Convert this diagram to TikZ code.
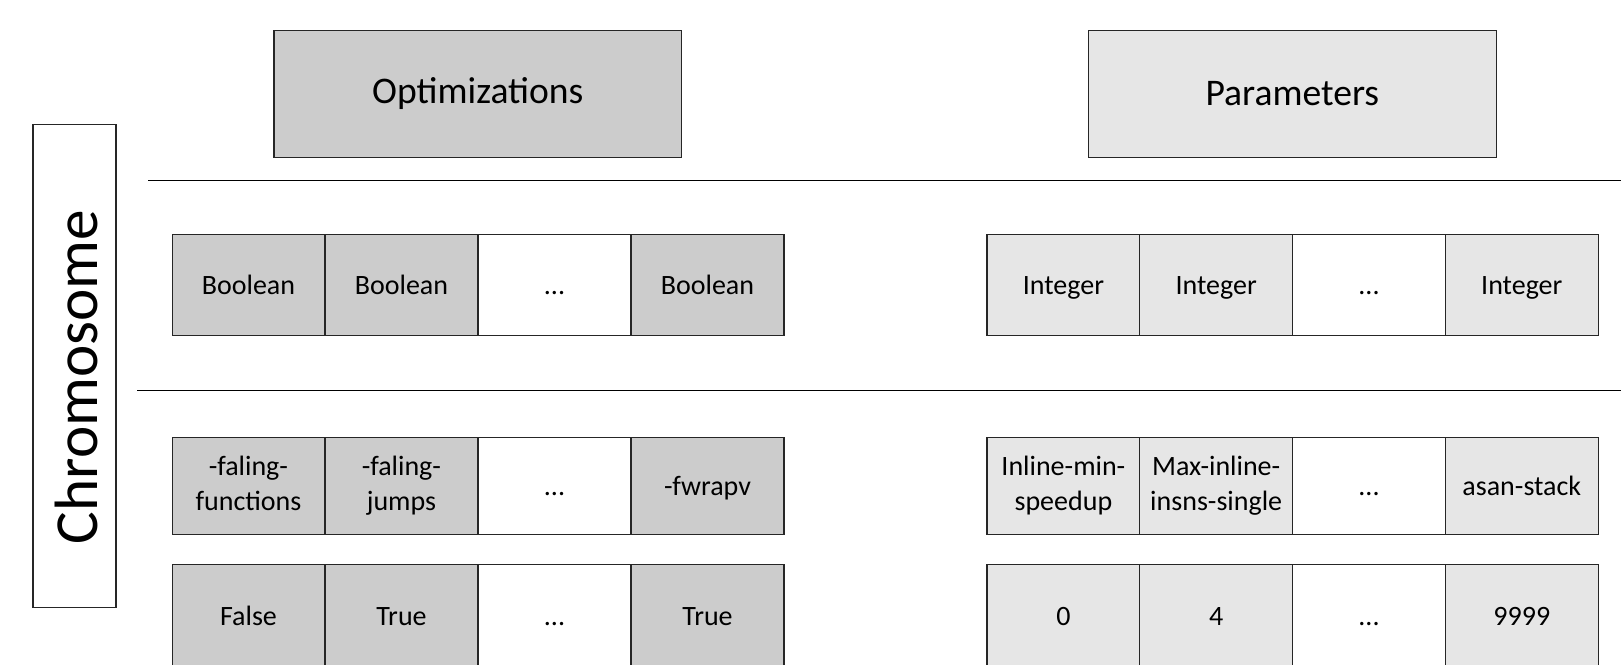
\documentclass[tikz,border=0pt]{standalone}
\usepackage{fontspec}
\setmainfont{Carlito}
\usepackage{xcolor}
\definecolor{optgray}{HTML}{CCCCCC}
\definecolor{pargray}{HTML}{E6E6E6}
\newcommand{\cellstrut}{\rule[-2.4pt]{0pt}{14.2pt}}

\begin{document}
\begin{tikzpicture}[x=0.5pt,y=-0.5pt]
    \tikzstyle{head}=[rectangle,draw=black!85,line width=0.6pt,minimum width=203.8pt,minimum height=63.5pt,inner sep=0pt,font=\fontsize{18.8}{22}\selectfont]
    \tikzstyle{cell}=[rectangle,draw=black!85,line width=0.6pt,minimum width=76.4pt,inner sep=0pt,align=center,font=\fontsize{14}{17.5}\selectfont,execute at begin node=\cellstrut,execute at end node=\cellstrut]
    \tikzstyle{O}=[cell,fill=optgray]
    \tikzstyle{P}=[cell,fill=pargray]
    \tikzstyle{E}=[cell,fill=white]

   \clip (0,0) rectangle (1621,664);

   % side label
   \node [rectangle,draw=black!85,line width=0.6pt,minimum width=41.5pt,minimum height=241.6pt] (chrom) at (74.5,365.8) {};
   \node [rotate=90,font=\fontsize{30.6}{36}\selectfont] (chromtext) at (76,377) {Chromosome};

   % headers
   \node [head,fill=optgray] (opt) at (477.8,93.8) {Optimizations};
   \node [head,fill=pargray] (par) at (1292.3,93.8) {Parameters};

   \draw [line width=0.5pt] (148,180.3) -- (1621,180.3);
   \draw [line width=0.5pt] (137,390) -- (1621,390);

   % types
   \node [O,minimum height=50.8pt] (ob1) at (248.5,284.9) {Boolean};
   \node [O,minimum height=50.8pt] (ob2) at (401.5,284.9) {Boolean};
   \node [E,minimum height=50.8pt] (ob3) at (554.5,284.9) {...};
   \node [O,minimum height=50.8pt] (ob4) at (707.5,284.9) {Boolean};
   \node [P,minimum height=50.8pt] (pi1) at (1063.4,284.9) {Integer};
   \node [P,minimum height=50.8pt] (pi2) at (1216.2,284.9) {Integer};
   \node [E,minimum height=50.8pt] (pi3) at (1369,284.9) {...};
   \node [P,minimum height=50.8pt] (pi4) at (1521.8,284.9) {Integer};

   % names
   \node [O,minimum height=48.5pt] (on1) at (248.5,485.8) {-faling-\\functions};
   \node [O,minimum height=48.5pt] (on2) at (401.5,485.8) {-faling-\\jumps};
   \node [E,minimum height=48.5pt] (on3) at (554.5,485.8) {...};
   \node [O,minimum height=48.5pt] (on4) at (707.5,485.8) {-fwrapv};
   \node [P,minimum height=48.5pt] (pn1) at (1063.4,485.8) {Inline-min-\\speedup};
   \node [P,minimum height=48.5pt] (pn2) at (1216.2,485.8) {Max-inline-\\insns-single};
   \node [E,minimum height=48.5pt] (pn3) at (1369,485.8) {...};
   \node [P,minimum height=48.5pt] (pn4) at (1521.8,485.8) {asan-stack};

   % values
   \node [O,minimum height=52pt] (ov1) at (248.5,616.3) {False};
   \node [O,minimum height=52pt] (ov2) at (401.5,616.3) {True};
   \node [E,minimum height=52pt] (ov3) at (554.5,616.3) {...};
   \node [O,minimum height=52pt] (ov4) at (707.5,616.3) {True};
   \node [P,minimum height=52pt] (pv1) at (1063.4,616.3) {0};
   \node [P,minimum height=52pt] (pv2) at (1216.2,616.3) {4};
   \node [E,minimum height=52pt] (pv3) at (1369,616.3) {...};
   \node [P,minimum height=52pt] (pv4) at (1521.8,616.3) {9999};
\end{tikzpicture}
\end{document}
